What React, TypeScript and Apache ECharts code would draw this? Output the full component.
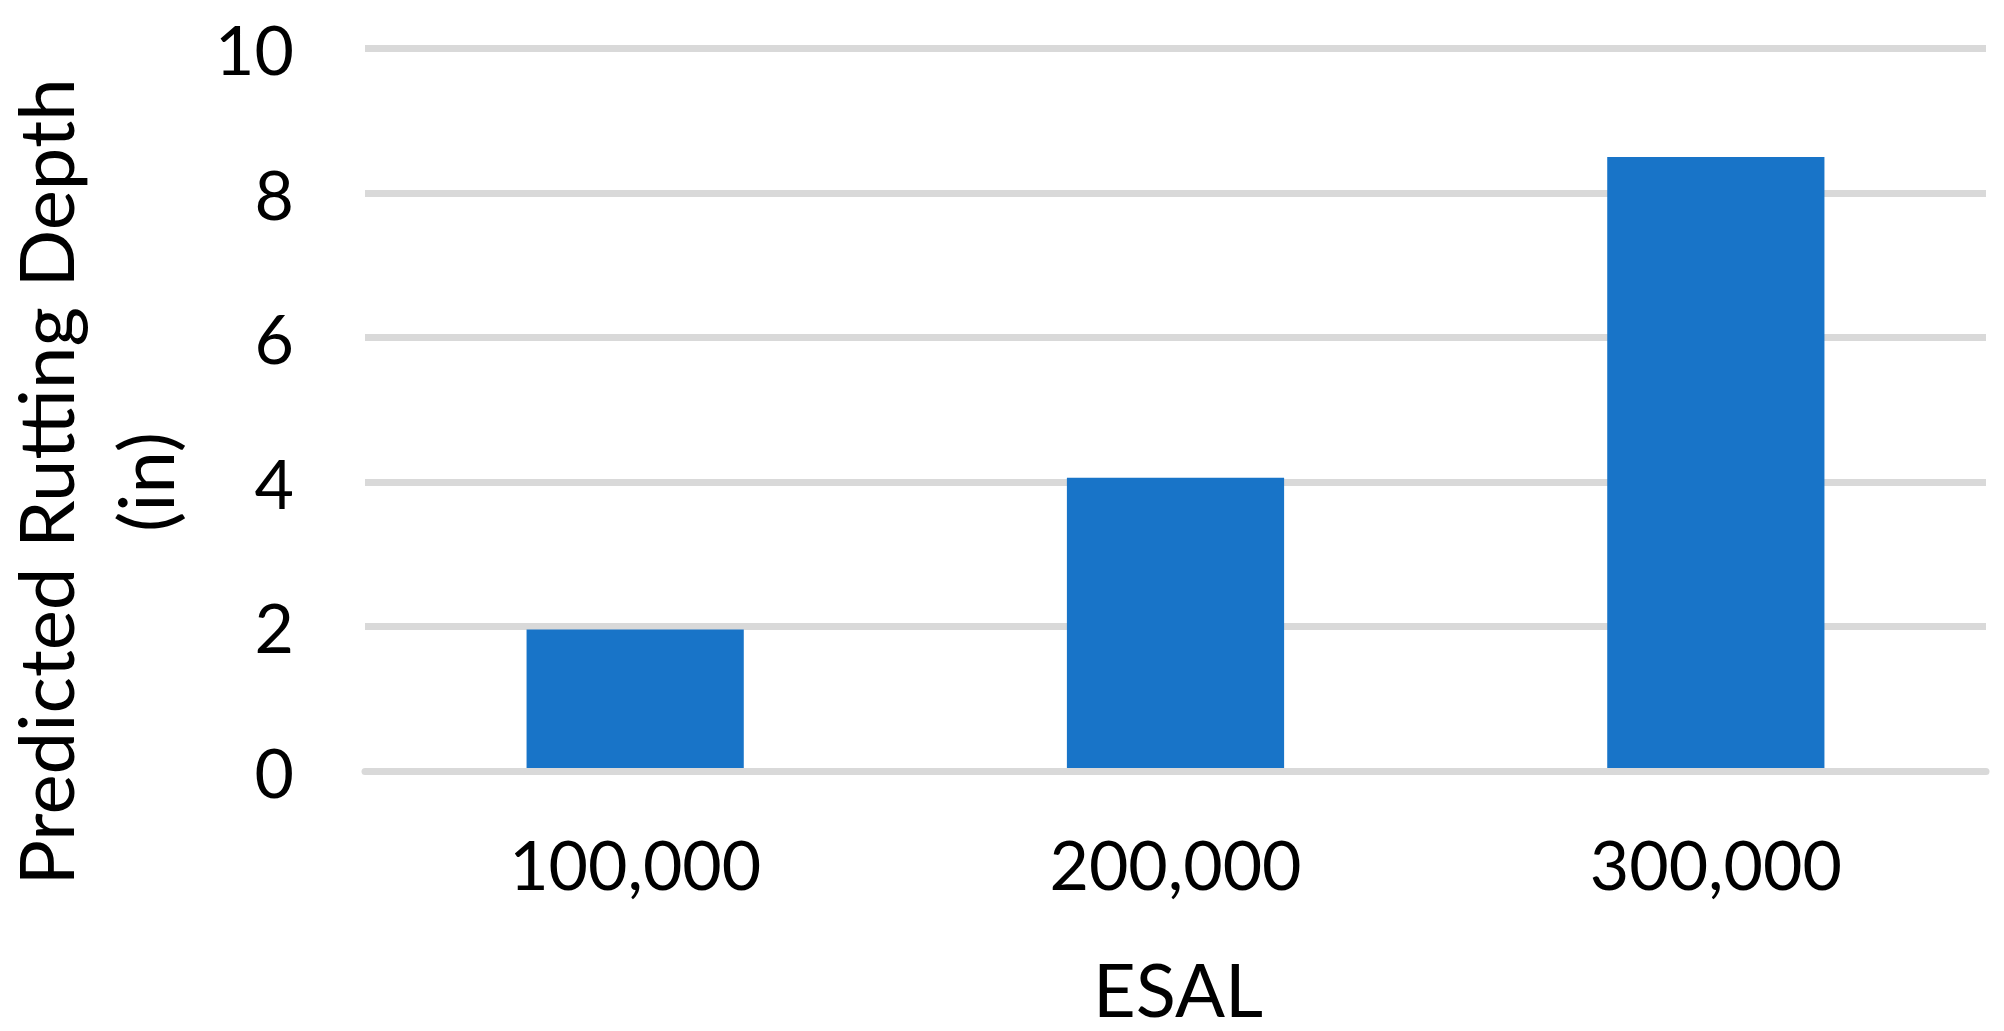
import React, { useEffect, useRef } from "react";
import * as echarts from "echarts";

const categories = ["100,000", "200,000", "300,000"];
const rutDepth = [1.96, 4.06, 8.5];
const yTicks = { min: 0, max: 10, interval: 2 };
const xTitle = "ESAL";
const yTitleLines = ["Predicted Rutting Depth", "(in)"];

const FONT = "Lato";

export default function App() {
  const ref = useRef<HTMLDivElement>(null);
  useEffect(() => {
    const chart = echarts.init(ref.current!, null, { renderer: "svg" });
    chart.setOption({
      animation: false,
      backgroundColor: "#ffffff",
      grid: { left: 365, top: 48.5, width: 1621, height: 722.5, containLabel: false },
      xAxis: {
        type: "category",
        data: categories,
        z: 3,
        axisLine: { show: true, lineStyle: { color: "#d9d9d9", width: 7 } },
        axisTick: { show: false },
        axisLabel: { color: "#000", fontFamily: FONT, fontSize: 68, margin: 58 },
      },
      yAxis: {
        type: "value",
        min: yTicks.min,
        max: yTicks.max,
        interval: yTicks.interval,
        axisLine: { show: false },
        axisTick: { show: false },
        splitLine: { show: true, lineStyle: { color: "#d9d9d9", width: 7 } },
        axisLabel: { color: "#000", fontFamily: FONT, fontSize: 68, margin: 71 },
      },
      series: [
        {
          type: "bar",
          data: rutDepth,
          barWidth: "40.2%",
          itemStyle: { color: "#1874c8" },
        },
      ],
      graphic: [
        {
          type: "text",
          x: 1178,
          y: 988,
          style: {
            text: xTitle,
            font: `74px ${FONT}`,
            fill: "#000",
            textAlign: "center",
            textVerticalAlign: "middle",
          },
        },
        {
          type: "text",
          x: 94,
          y: 482,
          rotation: Math.PI / 2,
          style: {
            text: yTitleLines.join("\n"),
            font: `76px ${FONT}`,
            lineHeight: 100,
            fill: "#000",
            textAlign: "center",
            textVerticalAlign: "middle",
          },
        },
      ],
    });
    return () => chart.dispose();
  }, []);
  return (
    <div
      ref={ref}
      style={{ position: "fixed", left: 0, top: 0, width: 2004, height: 1031, background: "#fff" }}
    />
  );
}
